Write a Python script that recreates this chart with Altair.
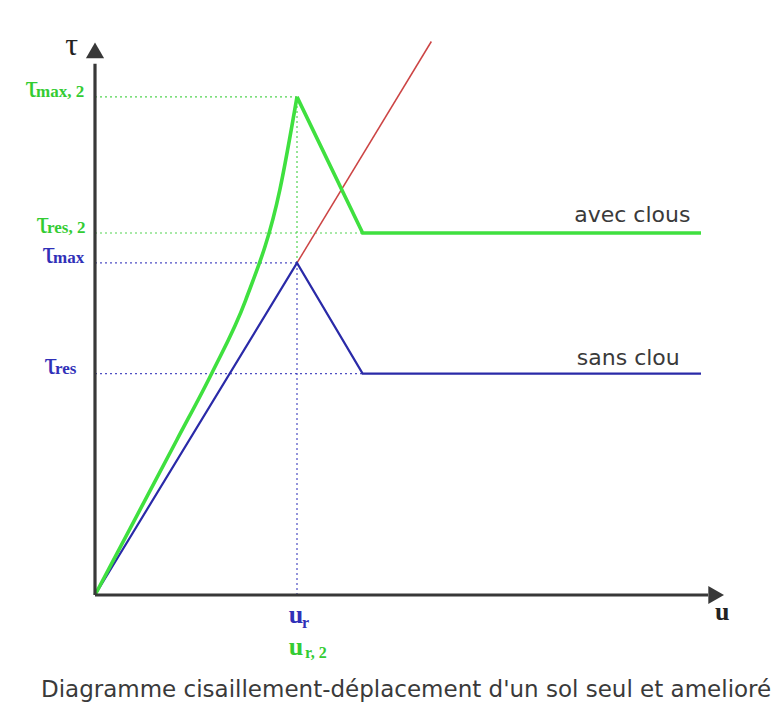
import altair as alt
import pandas as pd

# Characteristic values (u: displacement units, tau: shear stress units)
u_r = 2.0        # displacement at peak
u_res = 2.65     # displacement where residual plateau starts
u_end = 6.0      # end of the drawn plateaus
tau_max = 3.0
tau_res = 2.0
tau_max2 = 4.5
tau_res2 = 3.27

# Soil alone ("sans clou")
blue_u = [0.0, u_r, u_res, u_end]
blue_tau = [0.0, tau_max, tau_res, tau_res]

# Reinforced soil ("avec clous"): curved rise up to the higher peak ...
green_rise_u = [0.0, 0.81, 1.16, 1.49, 1.83, u_r]
green_rise_tau = [0.0, 1.40, 2.01, 2.66, 3.66, tau_max2]
# ... then a straight softening branch and the residual plateau
green_fall_u = [u_r, u_res, u_end]
green_fall_tau = [tau_max2, tau_res2, tau_res2]

# Extension of the initial elastic slope past the peak
red_u = [u_r, 3.33]
red_tau = [tau_max, 5.0]

GREEN = "#3fe03f"
GREEN_TXT = "#33cc33"
BLUE = "#2a2aa8"
BLUE_TXT = "#3030b8"
RED = "#cc4444"
AXIS = "#383838"
TEXT = "#3a3a3a"

xs = alt.Scale(domain=[-0.9406, 6.7327], nice=False, zero=False)
ys = alt.Scale(domain=[-0.9846, 5.3749], nice=False, zero=False)


def X(field="u"):
    return alt.X(f"{field}:Q", scale=xs, axis=None)


def Y(field="tau"):
    return alt.Y(f"{field}:Q", scale=ys, axis=None)


def curve(us, taus, color, width, interp="linear"):
    df = pd.DataFrame({"u": us, "tau": taus, "i": range(len(us))})
    return alt.Chart(df).mark_line(
        color=color, strokeWidth=width, interpolate=interp, strokeJoin="miter"
    ).encode(x=X(), y=Y(), order="i:Q")


blue_line = curve(blue_u, blue_tau, BLUE, 2.2)
green_rise = curve(green_rise_u, green_rise_tau, GREEN, 3.6, "monotone")
green_fall = curve(green_fall_u, green_fall_tau, GREEN, 3.6)
red_line = curve(red_u, red_tau, RED, 1.5)

# Dotted reference lines
guides = pd.DataFrame({
    "u":    [0.0, 0.0, 0.0, 0.0, u_r, u_r],
    "tau":  [tau_max2, tau_res2, tau_max, tau_res, tau_max, 0.0],
    "u2":   [u_r, u_res, u_r, u_res, u_r, u_r],
    "tau2": [tau_max2, tau_res2, tau_max, tau_res, tau_max2, tau_max],
    "c":    [GREEN_TXT, GREEN_TXT, BLUE_TXT, BLUE_TXT, GREEN_TXT, BLUE_TXT],
})
guide_rules = alt.Chart(guides).mark_rule(strokeWidth=1.2, strokeDash=[2, 3], opacity=0.85).encode(
    x=X(), y=Y(), x2="u2:Q", y2="tau2:Q", color=alt.Color("c:N", scale=None)
)

# Axes with arrowheads
axes_df = pd.DataFrame({"u": [0.0, 0.0], "tau": [0.0, 0.0], "u2": [6.07, 0.0], "tau2": [0.0, 4.8]})
axes = alt.Chart(axes_df).mark_rule(strokeWidth=3.2, color=AXIS).encode(
    x=X(), y=Y(), x2="u2:Q", y2="tau2:Q"
)
heads_df = pd.DataFrame({"u": [6.15, 0.0], "tau": [0.0, 4.92], "shape": ["triangle-right", "triangle-up"]})
heads = alt.Chart(heads_df).mark_point(filled=True, size=330, opacity=1, color=AXIS).encode(
    x=X(), y=Y(), shape=alt.Shape("shape:N", scale=None)
)

# Stress-level labels: tau symbol plus subscript
tau_axis_lbl = pd.DataFrame({"u": [-0.23], "tau": [4.97], "t": ["τ"]})
tau_sym_main = alt.Chart(tau_axis_lbl).mark_text(
    font="Liberation Serif", fontSize=32, align="center", baseline="middle", color="#222222"
).encode(x=X(), y=Y(), text="t:N")

sub_lbl = pd.DataFrame({
    "u":   [-0.584, -0.475, -0.416, -0.396],
    "tau": [tau_max2, tau_res2, tau_max, tau_res],
    "t":   ["max, 2", "res, 2", "max", "res"],
    "c":   [GREEN_TXT, GREEN_TXT, BLUE_TXT, BLUE_TXT],
    "dy_sym": [-8, -5, 0, 5],
    "dy_sub": [1, 7, 9, 14],
    "sym": ["τ", "τ", "τ", "τ"],
})
tau_sym = alt.Chart(sub_lbl).mark_text(
    font="Liberation Serif", fontSize=32, align="right", baseline="alphabetic", dx=2
).encode(x=X(), y=Y(), text="sym:N", color=alt.Color("c:N", scale=None),
         yOffset=alt.YOffset("dy_sym:Q", scale=None))
subs = alt.Chart(sub_lbl).mark_text(
    font="Liberation Serif", fontSize=17, fontWeight="bold", align="left", baseline="alphabetic"
).encode(x=X(), y=Y(), text="t:N", color=alt.Color("c:N", scale=None),
         yOffset=alt.YOffset("dy_sub:Q", scale=None))

# Displacement labels
u_lbl = pd.DataFrame({
    "u":   [6.21, 1.99, 1.99],
    "tau": [-0.15, -0.18, -0.47],
    "t":   ["u", "u", "u"],
    "c":   ["#222222", BLUE_TXT, GREEN_TXT],
})
u_sym = alt.Chart(u_lbl).mark_text(
    font="Liberation Serif", fontSize=26, fontWeight="bold", align="center", baseline="middle"
).encode(x=X(), y=Y(), text="t:N", color=alt.Color("c:N", scale=None))

u_sub_lbl = pd.DataFrame({
    "u":   [2.05, 2.08],
    "tau": [-0.30, -0.57],
    "t":   ["r", "r, 2"],
    "c":   [BLUE_TXT, GREEN_TXT],
})
u_sub = alt.Chart(u_sub_lbl).mark_text(
    font="Liberation Serif", fontSize=16, fontWeight="bold", align="left", baseline="alphabetic"
).encode(x=X(), y=Y(), text="t:N", color=alt.Color("c:N", scale=None))

# Curve names and caption
notes = pd.DataFrame({
    "u":   [5.32, 5.28, 3.08],
    "tau": [3.43, 2.14, -0.86],
    "t":   ["avec clous", "sans clou", "Diagramme cisaillement-déplacement d'un sol seul et amelioré"],
    "fs":  [22, 22, 23],
})
note_text = alt.Chart(notes).mark_text(
    font="DejaVu Sans", align="center", baseline="middle", color=TEXT
).encode(x=X(), y=Y(), text="t:N", size=alt.Size("fs:Q", scale=None))

chart = alt.layer(
    guide_rules, red_line, blue_line, green_rise, green_fall, axes, heads,
    tau_sym_main, tau_sym, subs, u_sym, u_sub, note_text
).properties(
    width=775, height=704, padding=0, autosize=alt.AutoSizeParams(type="none"),
    background="white",
).configure_view(stroke=None)

chart.save("out.html", embed_options={"renderer": "svg", "actions": False})
